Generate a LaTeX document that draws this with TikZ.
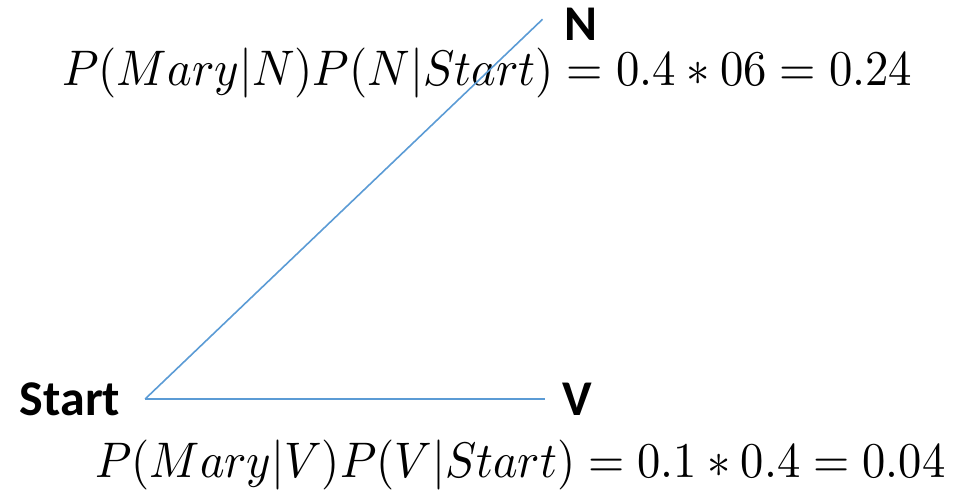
\documentclass[tikz,border=0pt]{standalone}
\usepackage{fontspec}
\setsansfont{Carlito}
\usepackage{graphicx}
\begin{document}
\begin{tikzpicture}[x=1pt,y=-1pt,
  lab/.style={font=\sffamily\bfseries\fontsize{50}{50}\selectfont, inner sep=0pt},
  frm/.style={inner sep=0pt, anchor=west},
  edge/.style={color={rgb,255:red,91;green,155;blue,213}, line width=1.6pt}]
\useasboundingbox (0,0) rectangle (956,493);
\node[lab, outer xsep=22pt] (N) at (581,24) {N};
\node[lab, outer xsep=25pt] (Start) at (70,399) {Start};
\node[lab, outer xsep=17pt] (V) at (577,399) {V};
\node[frm] (fN) at (62,73) {\resizebox*{850pt}{50pt}{$P(Mary|N)P(N|Start)=0.4*06=0.24$}};
\node[frm] (fV) at (95,465) {\resizebox*{850pt}{50pt}{$P(Mary|V)P(V|Start)=0.1*0.4=0.04$}};
\draw[edge] (Start.east) -- (N.173);
\draw[edge] (Start.east) -- (V.west);
\end{tikzpicture}
\end{document}
